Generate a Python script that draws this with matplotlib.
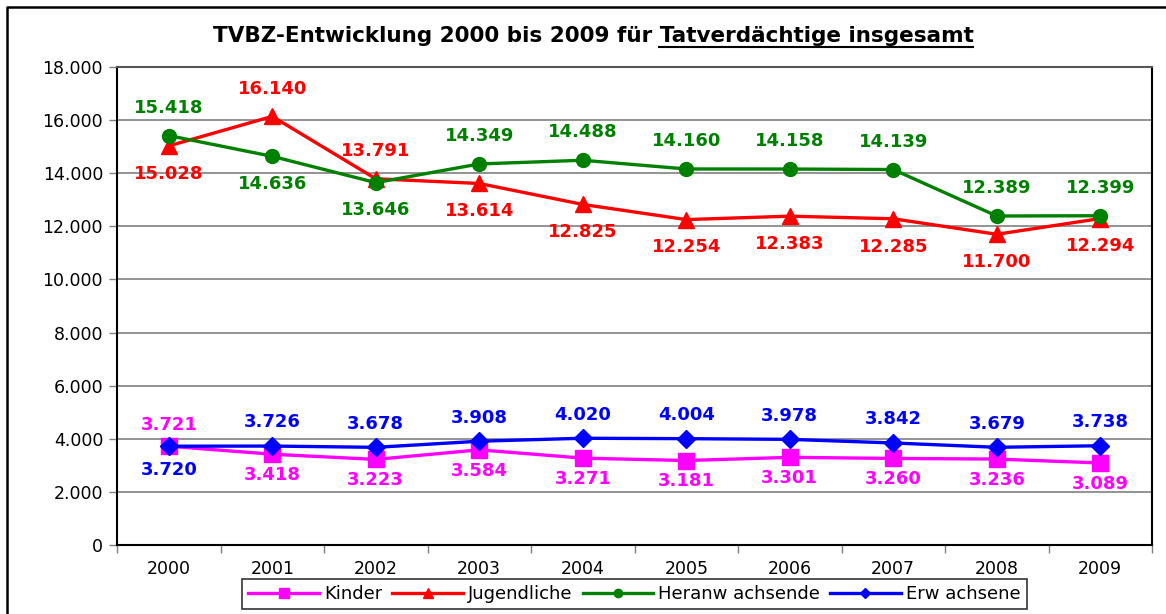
import matplotlib.pyplot as plt
from matplotlib.lines import Line2D
from matplotlib.ticker import FuncFormatter, MultipleLocator

plt.rcParams['font.family'] = ['DejaVu Sans']

YEARS = ['2000', '2001', '2002', '2003', '2004', '2005', '2006', '2007', '2008', '2009']
KINDER = [3721, 3418, 3223, 3584, 3271, 3181, 3301, 3260, 3236, 3089]
JUGENDLICHE = [15028, 16140, 13791, 13614, 12825, 12254, 12383, 12285, 11700, 12294]
HERANWACHSENDE = [15418, 14636, 13646, 14349, 14488, 14160, 14158, 14139, 12389, 12399]
ERWACHSENE = [3720, 3726, 3678, 3908, 4020, 4004, 3978, 3842, 3679, 3738]
# label placement: +1 above the point, -1 below
KINDER_POS = [1, -1, -1, -1, -1, -1, -1, -1, -1, -1]
JUGENDLICHE_POS = [-1, 1, 1, -1, -1, -1, -1, -1, -1, -1]
HERANWACHSENDE_POS = [1, -1, -1, 1, 1, 1, 1, 1, 1, 1]
ERWACHSENE_POS = [-1, 1, 1, 1, 1, 1, 1, 1, 1, 1]


def de_fmt(v):
    return f'{int(round(v)):,}'.replace(',', '.')


fig = plt.figure(figsize=(11.66, 6.14), dpi=100)
ax = fig.add_axes([117 / 1166, 69 / 614, 1035 / 1166, 478 / 614])

x = list(range(len(YEARS)))
series = [
    ('Kinder', KINDER, KINDER_POS, '#FF00FF', 's', 11, 15),
    ('Jugendliche', JUGENDLICHE, JUGENDLICHE_POS, '#FF0000', '^', 12, 20),
    ('Heranw achsende', HERANWACHSENDE, HERANWACHSENDE_POS, '#008000', 'o', 10, 20),
    ('Erw achsene', ERWACHSENE, ERWACHSENE_POS, '#0000FF', 'D', 9, 17),
]

for name, vals, pos, col, mk, ms, off in series:
    ax.plot(x, vals, color=col, marker=mk, markersize=ms, linewidth=2.4,
            label=name, clip_on=False)
    for xi, v, p in zip(x, vals, pos):
        ax.annotate(de_fmt(v), (xi, v), xytext=(0, p * off), textcoords='offset points',
                    ha='center', va='center', color=col, fontsize=13,
                    fontweight='bold')

ax.set_xlim(-0.5, len(YEARS) - 0.5)
ax.set_ylim(0, 18000)
ax.yaxis.set_major_locator(MultipleLocator(2000))
ax.yaxis.set_major_formatter(FuncFormatter(lambda v, p: de_fmt(v)))
ax.set_xticks([i - 0.5 for i in range(len(YEARS) + 1)])
ax.set_xticklabels([])
ax.set_xticks(x, minor=True)
ax.set_xticklabels(YEARS, minor=True)
ax.tick_params(axis='x', which='major', direction='out', length=6, width=1, color='#808080')
ax.tick_params(axis='x', which='minor', length=0, labelsize=12.5, pad=11)
ax.tick_params(axis='y', direction='out', length=6, width=1, color='#808080',
               labelsize=12.5, pad=4)
ax.grid(axis='y', color='#808080', linewidth=1.2)
ax.set_axisbelow(True)
for side in ['left', 'bottom', 'right', 'top']:
    ax.spines[side].set_color('black')
    ax.spines[side].set_linewidth(1.5)
ax.spines['top'].set_color('#555555')

leg = ax.legend(loc='center', bbox_to_anchor=(0.5, -0.1025), ncol=4, frameon=True,
                fancybox=False, edgecolor='black', fontsize=13, handlelength=3.9,
                markerscale=0.6, columnspacing=0.55, handletextpad=0.3,
                borderpad=0.35, borderaxespad=0)
leg.get_frame().set_linewidth(1.2)

# title with underlined part
t_main = 'TVBZ-Entwicklung 2000 bis 2009 für '
t_under = 'Tatverdächtige insgesamt'
title = fig.text(593 / 1166, 1 - 36 / 614, t_main + t_under, ha='center', va='center',
                 fontsize=15.5, fontweight='bold')
fig.canvas.draw()
r = fig.canvas.get_renderer()
bb = title.get_window_extent(r)
probe = fig.text(0, 0, t_under, fontsize=15.5, fontweight='bold')
w = probe.get_window_extent(r).width
probe.remove()
y_line = (bb.y0 - 1) / fig.bbox.height
fig.add_artist(Line2D([(bb.x1 - w) / fig.bbox.width, bb.x1 / fig.bbox.width],
                      [y_line, y_line], color='black', linewidth=1.5))

# outer chart border (left and top edges visible)
fig.add_artist(Line2D([7 / 1166, 7 / 1166, 1.0], [0.0, 1 - 7 / 614, 1 - 7 / 614],
                      color='black', linewidth=1.8))

fig.savefig('out.png', dpi=100)
